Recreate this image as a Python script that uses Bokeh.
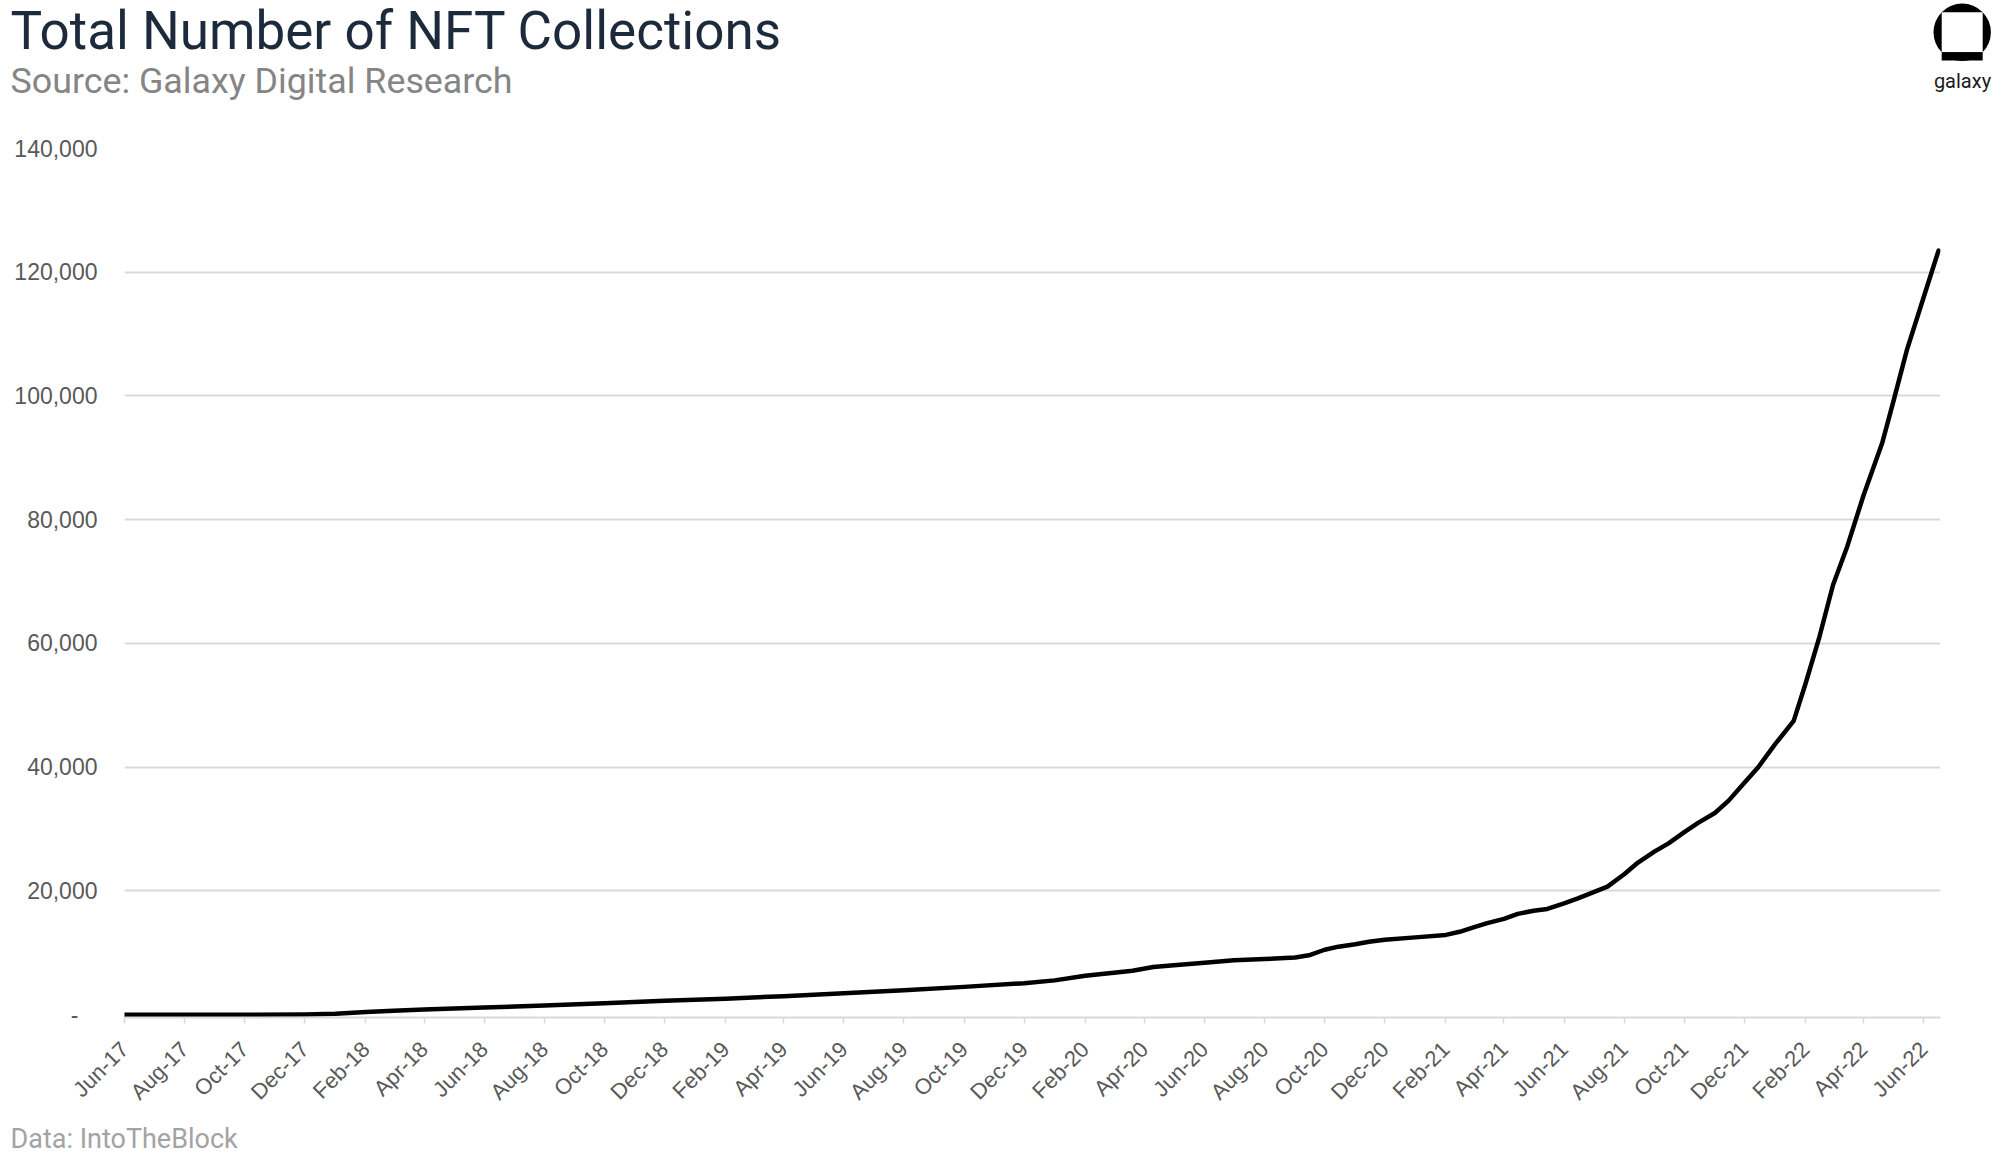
import math
import pandas as pd
from bokeh.plotting import figure
from bokeh.layouts import column
from bokeh.models import (Range1d, FixedTicker, NumeralTickFormatter,
                          DatetimeTickFormatter, ColumnDataSource)
from bokeh.core.properties import value
from bokeh.embed import file_html
from bokeh.resources import INLINE

# ---------------- data ----------------
dates = [
    "2017-06-01", "2017-08-01", "2017-10-01", "2017-12-01", "2018-01-01",
    "2018-02-01", "2018-03-01", "2018-04-01", "2018-06-01", "2018-08-01",
    "2018-10-01", "2018-12-01", "2019-02-01", "2019-04-01", "2019-06-01",
    "2019-08-01", "2019-10-01", "2019-12-01", "2020-01-01", "2020-02-01",
    "2020-03-01", "2020-03-20", "2020-04-10", "2020-05-01", "2020-06-01",
    "2020-07-01", "2020-08-01", "2020-09-01", "2020-09-15", "2020-10-01",
    "2020-10-15", "2020-11-01", "2020-11-15", "2020-12-01", "2021-01-01",
    "2021-02-01", "2021-02-15", "2021-03-01", "2021-03-15", "2021-04-01",
    "2021-04-15", "2021-05-01", "2021-05-15", "2021-06-01", "2021-06-15",
    "2021-07-01", "2021-07-15", "2021-08-01", "2021-08-15", "2021-09-01",
    "2021-09-15", "2021-10-01", "2021-10-15", "2021-11-01", "2021-11-15",
    "2021-12-01", "2021-12-15", "2022-01-01", "2022-01-20", "2022-02-01",
    "2022-02-15", "2022-03-01", "2022-03-15", "2022-04-01", "2022-04-20",
    "2022-05-01", "2022-05-15", "2022-06-01", "2022-06-16",
]
collections = [
    0, 0, 0, 50, 150,
    450, 650, 850, 1150, 1500,
    1850, 2250, 2600, 3000, 3450,
    3950, 4500, 5100, 5550, 6300,
    6800, 7100, 7700, 8000, 8400,
    8800, 9000, 9250, 9600, 10500,
    11000, 11400, 11800, 12100, 12500,
    12900, 13400, 14100, 14800, 15500,
    16300, 16800, 17100, 18000, 18800,
    19800, 20700, 22700, 24600, 26400,
    27700, 29500, 31000, 32600, 34600,
    37500, 40000, 43700, 47500, 53500,
    61000, 69500, 75500, 84000, 92500,
    99000, 107500, 116000, 123500,
]
x_tick_labels = [
    "Jun-17", "Aug-17", "Oct-17", "Dec-17", "Feb-18", "Apr-18", "Jun-18",
    "Aug-18", "Oct-18", "Dec-18", "Feb-19", "Apr-19", "Jun-19", "Aug-19",
    "Oct-19", "Dec-19", "Feb-20", "Apr-20", "Jun-20", "Aug-20", "Oct-20",
    "Dec-20", "Feb-21", "Apr-21", "Jun-21", "Aug-21", "Oct-21", "Dec-21",
    "Feb-22", "Apr-22", "Jun-22",
]
y_ticks = [0, 20000, 40000, 60000, 80000, 100000, 120000, 140000]
y_grid_ticks = [20000, 40000, 60000, 80000, 100000, 120000, 140000]

title_text = "Total Number of NFT Collections"
subtitle_text = "Source: Galaxy Digital Research"
footer_text = "Data: IntoTheBlock"
logo_text = "galaxy"

# ---------------- helpers ----------------
def to_ms(ts):
    return pd.Timestamp(ts).timestamp() * 1000.0

tick_ms = [to_ms(pd.to_datetime(l, format="%b-%y")) for l in x_tick_labels]

src = ColumnDataSource(dict(date=pd.to_datetime(dates), val=collections))

W = 1996
BL = 0.35  # observed offset of the alphabetic baseline (in em) in this renderer

# ---------------- header (page y 0..108) ----------------
head = figure(width=W, height=108, x_range=Range1d(0, W), y_range=Range1d(108, 0),
              x_axis_type=None, y_axis_type=None, min_border=0,
              output_backend="svg", toolbar_location=None)
head.frame_align = False
head.outline_line_color = None
head.text(x=[10], y=[49.5 - BL * 53], text=[title_text], text_font=value("Roboto"),
          text_font_size="53px", text_color="#1c2a3b",
          text_baseline="alphabetic", text_align="left")
head.text(x=[10], y=[93 - BL * 35.8], text=[subtitle_text], text_font=value("Roboto"),
          text_font_size="35.8px", text_color="#858585",
          text_baseline="alphabetic", text_align="left")
# logo
head.circle(x=[1961.7], y=[31.7], radius=28.7, fill_color="black", line_color=None)
head.quad(left=[1941.2], right=[1982.2], top=[11.7], bottom=[51.7],
          fill_color="white", line_color=None)
head.quad(left=[1941.2], right=[1982.2], top=[51.7], bottom=[60.0],
          fill_color="black", line_color=None)
head.text(x=[1962], y=[87 - BL * 20], text=[logo_text], text_font=value("Roboto"),
          text_font_size="20px", text_color="#1a1a1a",
          text_baseline="alphabetic", text_align="center")

# ---------------- main chart (page y 108..1121) ----------------
x_start = to_ms("2017-06-01")
x_end = to_ms("2022-06-18")
p = figure(width=W, height=1013, x_axis_type="datetime",
           x_range=Range1d(x_start, x_end), y_range=Range1d(-450, 140000),
           min_border_left=124, min_border_right=W - 1940, min_border_top=40,
           min_border_bottom=104, output_backend="svg", toolbar_location=None)
p.frame_align = False
p.outline_line_color = None
p.background_fill_color = "white"
p.border_fill_color = "white"

p.line(x="date", y="val", source=src, line_color="black", line_width=4.5,
       line_join="round", line_cap="round")

xt = FixedTicker(ticks=tick_ms)
xa = p.xaxis[0]
xa.ticker = xt
xa.formatter = DatetimeTickFormatter(days="%b-%y", months="%b-%y", years="%b-%y",
                                     hours="%b-%y", minutes="%b-%y")
xa.major_label_overrides = {t: l for t, l in zip(tick_ms, x_tick_labels)}
xa.major_label_orientation = math.pi / 4
xa.major_label_text_font = "Liberation Sans"
xa.major_label_text_font_size = "22px"
xa.major_label_text_color = "#595959"
xa.major_label_standoff = 22
xa.axis_line_color = "#d9d9d9"
xa.axis_line_width = 2
xa.major_tick_line_color = "#d9d9d9"
xa.major_tick_line_width = 1.5
xa.major_tick_out = 6
xa.major_tick_in = 0
xa.minor_tick_line_color = None

yt = FixedTicker(ticks=y_ticks)
ya = p.yaxis[0]
ya.ticker = yt
ya.formatter = NumeralTickFormatter(format="0,0")
ya.major_label_overrides = {0: "-\u00a0\u00a0\u00a0"}
ya.major_label_text_font = "Liberation Sans"
ya.major_label_text_font_size = "23px"
ya.major_label_text_color = "#595959"
ya.axis_line_color = None
ya.major_tick_line_color = None
ya.minor_tick_line_color = None
ya.major_tick_out = 0
ya.major_tick_in = 0
ya.major_label_standoff = 27

p.xgrid.visible = False
p.ygrid.ticker = FixedTicker(ticks=y_grid_ticks)
p.ygrid.grid_line_color = "#d9d9d9"
p.ygrid.grid_line_width = 2

# ---------------- footer (page y 1121..1156) ----------------
foot = figure(width=W, height=35, x_range=Range1d(0, W), y_range=Range1d(1156, 1121),
              x_axis_type=None, y_axis_type=None, min_border=0,
              output_backend="svg", toolbar_location=None)
foot.frame_align = False
foot.outline_line_color = None
foot.text(x=[10], y=[1148 - BL * 27], text=[footer_text], text_font=value("Roboto"),
          text_font_size="27px", text_color="#a3a3a3",
          text_baseline="alphabetic", text_align="left")

layout = column(head, p, foot, spacing=0)
open("out.html", "w").write(file_html(layout, INLINE))
